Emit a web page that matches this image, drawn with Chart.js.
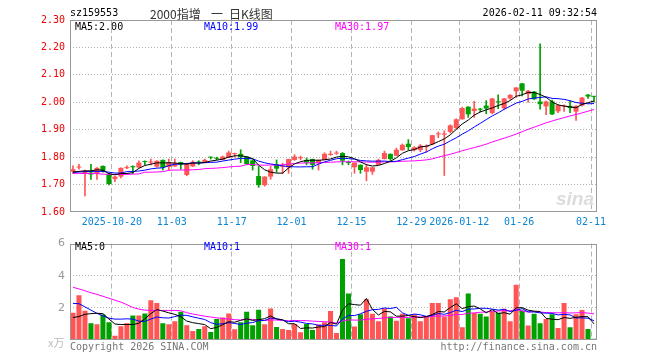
<!DOCTYPE html>
<html>
<head>
<meta charset="utf-8">
<script src="https://cdn.jsdelivr.net/npm/chart.js@4.4.1/dist/chart.umd.min.js"></script>
<style>
  body { margin: 0; background: #fff; }
  #box { position: relative; width: 660px; height: 360px; overflow: hidden; background: #fff; }
  canvas { position: absolute; left: 0; }
  .t { position: absolute; white-space: nowrap; line-height: 10px; font: 10px 'DejaVu Sans Mono', monospace; color: #000; }
  .cn { line-height: 14px; font: 12px 'Noto Sans CJK SC'; color: #333; top: 5px; }
</style>
</head>
<body>
<div id="box">
  <canvas id="kChart" width="660" height="232" style="top:0"></canvas>
  <canvas id="volChart" width="660" height="128" style="top:232px"></canvas>

  <div class="t" style="left:70px;top:7px">sz159553</div>
  <div class="t cn" style="left:150px">2000指增</div>
  <div class="t cn" style="left:211px">一</div>
  <div class="t cn" style="left:229px">日K线图</div>
  <div class="t" style="right:63px;top:7px">2026-02-11 09:32:54</div>
  <div class="t" style="left:75px;top:21px">MA5:2.00</div>
  <div class="t" style="left:204px;top:21px;color:#0000ff">MA10:1.99</div>
  <div class="t" style="left:335px;top:21px;color:#ff00ff">MA30:1.97</div>
  <div class="t" style="right:66px;top:188px;line-height:20px;font:italic bold 19px 'Liberation Sans';color:#dcdcdc">sina</div>

  <div class="t" style="left:75px;top:241px">MA5:0</div>
  <div class="t" style="left:204px;top:241px;color:#0000ff">MA10:1</div>
  <div class="t" style="left:335px;top:241px;color:#ff00ff">MA30:1</div>
  <div class="t" style="left:48px;top:334px;line-height:12px;font:11px 'Noto Sans CJK SC';color:#bbb">x万</div>
  <div class="t" style="left:70px;top:341px;color:#777">Copyright 2026 SINA.COM</div>
  <div class="t" style="right:63px;top:341px;color:#777">http://finance.sina.com.cn</div>
</div>

<script>
// 交易日
const dates = [
  '2025-10-09','2025-10-10','2025-10-13','2025-10-14','2025-10-15','2025-10-16','2025-10-17',
  '2025-10-20','2025-10-21','2025-10-22','2025-10-23','2025-10-24','2025-10-27','2025-10-28',
  '2025-10-29','2025-10-30','2025-10-31',
  '2025-11-03','2025-11-04','2025-11-05','2025-11-06','2025-11-07','2025-11-10','2025-11-11',
  '2025-11-12','2025-11-13','2025-11-14','2025-11-17','2025-11-18','2025-11-19','2025-11-20',
  '2025-11-21','2025-11-24','2025-11-25','2025-11-26','2025-11-27','2025-11-28',
  '2025-12-01','2025-12-02','2025-12-03','2025-12-04','2025-12-05','2025-12-08','2025-12-09',
  '2025-12-10','2025-12-11','2025-12-12','2025-12-15','2025-12-16','2025-12-17','2025-12-18',
  '2025-12-19','2025-12-22','2025-12-23','2025-12-24','2025-12-25','2025-12-26','2025-12-29',
  '2025-12-30','2025-12-31',
  '2026-01-05','2026-01-06','2026-01-07','2026-01-08','2026-01-09','2026-01-12','2026-01-13',
  '2026-01-14','2026-01-15','2026-01-16','2026-01-19','2026-01-20','2026-01-21','2026-01-22',
  '2026-01-23','2026-01-26','2026-01-27','2026-01-28','2026-01-29','2026-01-30',
  '2026-02-02','2026-02-03','2026-02-04','2026-02-05','2026-02-06','2026-02-09','2026-02-10',
  '2026-02-11'
];

const tickDates = ['2025-10-20','2025-11-03','2025-11-17','2025-12-01','2025-12-15','2025-12-29','2026-01-12','2026-01-26','2026-02-11'];
const tickText  = ['2025-10-20','11-03','11-17','12-01','12-15','12-29','2026-01-12','01-26','02-11'];

const openP = [
  1.747,1.762,1.741,1.744,1.739,1.768,1.739,1.720,1.729,1.760,
  1.767,1.762,1.784,1.780,1.765,1.790,1.764,1.766,1.782,1.735,
  1.766,1.782,1.780,1.800,1.797,1.790,1.799,1.811,1.812,1.802,
  1.788,1.731,1.698,1.729,1.774,1.765,1.763,1.790,1.796,1.790,
  1.793,1.778,1.790,1.808,1.813,1.815,1.781,1.763,1.772,1.747,
  1.747,1.772,1.793,1.812,1.805,1.825,1.849,1.826,1.826,1.837,
  1.847,1.883,1.882,1.892,1.906,1.938,1.984,1.968,1.975,1.988,
  1.961,2.003,1.978,2.014,2.040,2.069,2.030,2.039,2.003,1.985,
  2.003,1.967,1.985,1.987,1.966,1.988,2.028,2.022
];
const highP = [
  1.768,1.774,1.753,1.774,1.762,1.768,1.740,1.730,1.761,1.768,
  1.768,1.787,1.787,1.793,1.787,1.790,1.793,1.793,1.782,1.778,
  1.787,1.787,1.793,1.801,1.800,1.804,1.822,1.815,1.827,1.802,
  1.790,1.766,1.729,1.766,1.790,1.778,1.793,1.809,1.804,1.797,
  1.793,1.790,1.816,1.822,1.822,1.817,1.786,1.780,1.772,1.774,
  1.763,1.793,1.822,1.812,1.833,1.848,1.864,1.838,1.846,1.845,
  1.880,1.892,1.896,1.918,1.940,1.982,1.984,2.004,1.978,2.006,
  2.014,2.027,2.014,2.028,2.054,2.069,2.044,2.040,2.213,2.004,
  2.008,1.991,1.991,2.004,1.988,2.018,2.028,2.022
];
const lowP = [
  1.740,1.756,1.659,1.719,1.719,1.745,1.699,1.711,1.724,1.758,
  1.741,1.762,1.772,1.772,1.763,1.753,1.753,1.766,1.756,1.732,
  1.766,1.772,1.780,1.793,1.790,1.790,1.799,1.800,1.780,1.772,
  1.753,1.690,1.694,1.719,1.745,1.740,1.741,1.788,1.790,1.772,
  1.756,1.753,1.790,1.806,1.810,1.772,1.772,1.741,1.741,1.714,
  1.737,1.772,1.793,1.788,1.805,1.825,1.827,1.822,1.820,1.818,
  1.845,1.871,1.733,1.888,1.903,1.938,1.945,1.945,1.965,1.958,
  1.958,1.977,1.974,2.010,2.018,2.023,2.000,2.010,1.975,1.955,
  1.955,1.962,1.967,1.962,1.934,1.986,2.014,2.000
];
const closeP = [
  1.756,1.765,1.751,1.737,1.761,1.748,1.702,1.729,1.761,1.762,
  1.763,1.780,1.782,1.784,1.787,1.762,1.782,1.778,1.772,1.778,
  1.783,1.780,1.790,1.798,1.794,1.802,1.817,1.813,1.800,1.775,
  1.768,1.698,1.729,1.756,1.758,1.767,1.793,1.802,1.798,1.780,
  1.772,1.790,1.812,1.812,1.815,1.787,1.779,1.780,1.753,1.763,
  1.763,1.790,1.815,1.793,1.827,1.845,1.837,1.836,1.842,1.839,
  1.880,1.886,1.886,1.916,1.938,1.979,1.956,1.977,1.973,1.977,
  2.014,2.000,2.014,2.027,2.054,2.042,2.042,2.011,1.993,2.003,
  1.956,1.990,1.988,1.979,1.987,2.017,2.021,2.020
];

// 成交量(万)
const volume = [
  1.70,2.78,1.82,1.04,0.98,1.58,1.11,0.27,0.86,1.04,
  1.52,1.52,1.65,2.48,2.30,1.05,0.98,1.17,1.76,0.92,
  0.56,0.69,0.86,0.50,1.30,1.40,1.65,0.67,1.10,1.76,
  0.92,1.88,0.98,1.96,0.81,0.68,0.62,1.00,0.48,1.00,
  0.62,0.96,1.10,1.80,0.44,5.04,2.90,0.84,1.60,2.54,
  1.64,1.16,1.96,1.46,1.20,1.64,1.36,1.60,1.16,1.50,
  2.30,2.30,1.46,2.54,2.66,0.80,2.90,1.68,1.64,1.46,
  1.76,1.70,1.94,1.16,3.44,1.84,0.90,1.64,1.04,1.30,
  1.60,0.74,2.30,0.80,1.60,1.86,0.68,0.08
];

// 均线开头几天 (窗口之前的数据不在图内, 从图上读)
const ma5Head  = [1.746,1.748,1.750,1.750];
const ma10Head = [1.744,1.746,1.747,1.748,1.748,1.748,1.745,1.742,1.742];
const ma30Head = [1.741,1.741,1.740,1.740,1.740,1.738,1.737,1.737,1.737,1.737,
                  1.738,1.739,1.745,1.745,1.746,1.747,1.752,1.753,1.753,1.753,
                  1.754,1.755,1.758,1.759,1.760,1.762,1.764,1.766,1.767];
const vma5Head  = [1.40,1.46,1.60,1.64];
const vma10Head = [2.28,2.26,2.06,1.86,1.66,1.50,1.36,1.30,1.30];
const vma30Head = [3.28,3.18,3.06,2.94,2.84,2.72,2.60,2.48,2.36,2.20,
                   2.02,1.92,1.86,1.84,1.84,1.84,1.84,1.84,1.82,1.70,
                   1.62,1.55,1.48,1.43,1.38,1.34,1.30,1.27,1.24];

const UP = '#ff5555';
const DOWN = '#00a000';
const GRID = '#b4b4b4';

function movingAvg(src, n, head) {
  return src.map(function(_, i) {
    if (i < n - 1) return head[i];
    let s = 0;
    for (let k = i - n + 1; k <= i; k++) s += src[k];
    return s / n;
  });
}

const candleColor = closeP.map((c, i) => c >= openP[i] ? UP : DOWN);

// 边框
const framePlugin = {
  id: 'frame',
  afterDraw(chart) {
    const a = chart.chartArea;
    const ctx = chart.ctx;
    ctx.save();
    ctx.strokeStyle = '#999';
    ctx.lineWidth = 1;
    ctx.strokeRect(Math.round(a.left) + 0.5, Math.round(a.top) + 0.5,
                   Math.round(a.right - a.left) - 1, Math.round(a.bottom - a.top) - 1);
    ctx.restore();
  }
};

function dateAxis(showLabels) {
  return {
    offset: true,
    grid: {
      offset: true,
      drawTicks: false,
      color: c => tickDates.includes(dates[c.index]) ? GRID : 'rgba(0,0,0,0)'
    },
    border: { display: false, dash: [5, 3] },
    ticks: {
      display: showLabels,
      autoSkip: false,
      maxRotation: 0,
      padding: 4,
      labelOffset: -3,
      color: '#0b85d5',
      font: { family: 'DejaVu Sans Mono', size: 10 },
      callback: function(v, i) {
        const k = tickDates.indexOf(dates[i]);
        return k < 0 ? '' : tickText[k];
      }
    },
    afterFit: s => { s.height = showLabels ? 20 : 0; }
  };
}

function maLine(data, color) {
  return {
    type: 'line',
    data: data,
    borderColor: color,
    borderWidth: 1,
    pointRadius: 0,
    tension: 0,
    fill: false
  };
}

// K线
new Chart(document.getElementById('kChart').getContext('2d'), {
  type: 'bar',
  data: {
    labels: dates,
    datasets: [
      maLine(movingAvg(closeP, 5, ma5Head), '#000000'),
      maLine(movingAvg(closeP, 10, ma10Head), '#0000ff'),
      maLine(movingAvg(closeP, 30, ma30Head), '#ff00ff'),
      {
        data: openP.map((o, i) => [o, closeP[i]]),
        backgroundColor: candleColor,
        grouped: false,
        barPercentage: 0.84,
        categoryPercentage: 1,
        minBarLength: 1
      },
      {
        data: lowP.map((l, i) => [l, highP[i]]),
        backgroundColor: candleColor,
        grouped: false,
        barThickness: 1
      }
    ]
  },
  options: {
    responsive: false,
    animation: false,
    layout: { padding: { left: 0, right: 63, top: 20, bottom: 0 } },
    plugins: { legend: { display: false }, tooltip: { enabled: false } },
    scales: {
      x: dateAxis(true),
      y: {
        min: 1.6,
        max: 2.3,
        grid: {
          drawTicks: false,
          color: c => (c.tick && c.tick.value > 1.605 && c.tick.value < 2.295) ? GRID : 'rgba(0,0,0,0)'
        },
        border: { display: false, dash: [1, 2] },
        ticks: {
          stepSize: 0.1,
          padding: 5,
          color: '#ee0000',
          font: { family: 'DejaVu Sans Mono', size: 10 },
          callback: v => Number(v).toFixed(2)
        },
        afterFit: s => { s.width = 70; }
      }
    }
  },
  plugins: [framePlugin]
});

// 成交量
new Chart(document.getElementById('volChart').getContext('2d'), {
  type: 'bar',
  data: {
    labels: dates,
    datasets: [
      maLine(movingAvg(volume, 5, vma5Head), '#000000'),
      maLine(movingAvg(volume, 10, vma10Head), '#0000ff'),
      maLine(movingAvg(volume, 30, vma30Head), '#ff00ff'),
      {
        data: volume,
        backgroundColor: candleColor,
        barPercentage: 0.84,
        categoryPercentage: 1
      }
    ]
  },
  options: {
    responsive: false,
    animation: false,
    layout: { padding: { left: 0, right: 63, top: 8, bottom: 20 } },
    plugins: { legend: { display: false }, tooltip: { enabled: false } },
    scales: {
      x: dateAxis(false),
      y: {
        min: 0,
        max: 6,
        grid: {
          drawTicks: false,
          color: c => (c.tick && (c.tick.value === 2 || c.tick.value === 4)) ? GRID : 'rgba(0,0,0,0)'
        },
        border: { display: false, dash: [1, 2] },
        ticks: {
          stepSize: 2,
          padding: 5,
          color: '#999',
          font: { family: 'DejaVu Sans', size: 11 },
          callback: v => v === 0 ? '' : v
        },
        afterFit: s => { s.width = 70; }
      }
    }
  },
  plugins: [framePlugin]
});
</script>
</body>
</html>
